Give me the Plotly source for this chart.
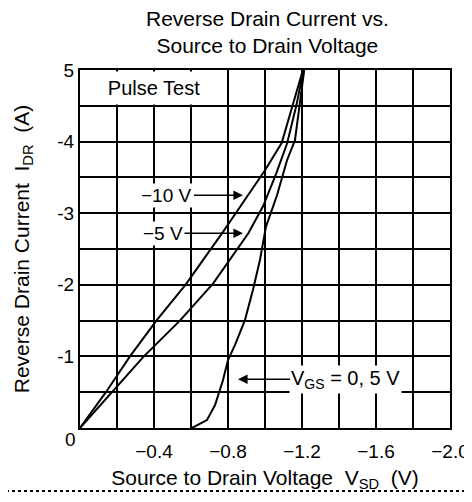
import plotly.graph_objects as go

FONT = "Liberation Sans, Arial, sans-serif"

# curve data (V_SD in V, I_DR in A)
vsd_10v = [0, -0.14, -0.27, -0.416, -0.57, -0.773, -0.908, -1.0, -1.09, -1.15, -1.205]
idr_10v = [0, -0.5, -1.0, -1.51, -2.0, -2.74, -3.25, -3.60, -3.98, -4.51, -5.0]

vsd_5v = [0, -0.17, -0.345, -0.54, -0.72, -0.91, -0.99, -1.06, -1.12, -1.17, -1.208]
idr_5v = [0, -0.5, -1.0, -1.5, -2.02, -2.72, -3.1, -3.55, -3.98, -4.51, -5.0]

vsd_0v = [-0.605, -0.686, -0.73, -0.773, -0.80, -0.838, -0.892, -0.935, -0.973,
          -1.005, -1.065, -1.119, -1.162, -1.189, -1.212]
idr_0v = [0, -0.11, -0.32, -0.67, -0.95, -1.16, -1.51, -1.93, -2.35,
          -2.81, -3.25, -3.74, -4.02, -4.51, -5.0]

x_ticks = [0, -0.2, -0.4, -0.6, -0.8, -1.0, -1.2, -1.4, -1.6, -1.8, -2.0]
x_labels = ["", "", "\u22120.4", "", "\u22120.8", "", "\u22121.2", "", "\u22121.6", "", "\u22122.0"]
y_ticks = [-5, -4.5, -4, -3.5, -3, -2.5, -2, -1.5, -1, -0.5, 0]
y_labels = ["5", "", "-4", "", "-3", "", "-2", "", "-1", "", ""]

fig = go.Figure()
for xs, ys in [(vsd_10v, idr_10v), (vsd_5v, idr_5v), (vsd_0v, idr_0v)]:
    fig.add_trace(go.Scatter(
        x=xs, y=ys, mode="lines",
        line=dict(color="black", width=2),
        showlegend=False, hoverinfo="skip",
    ))

ann_font = dict(family=FONT, size=19, color="black")
arrow = dict(showarrow=True, arrowhead=2, arrowsize=1.2, arrowwidth=1.6, arrowcolor="black",
             bgcolor="white", borderpad=1, font=ann_font, xref="x", yref="y")
fig.add_annotation(x=-0.881, y=-3.25, ax=-76, ay=0, text="\u221210 V", **arrow)
fig.add_annotation(x=-0.881, y=-2.72, ax=-80, ay=0, text="\u22125 V", **arrow)
fig.add_annotation(x=-0.854, y=-0.68, ax=108, ay=0, text="V<sub>GS</sub> = 0, 5 V",
                   **{**arrow, "font": dict(family=FONT, size=20, color="black")})

fig.add_annotation(x=-0.4, y=-4.75, xref="x", yref="y", text="Pulse Test", showarrow=False,
                   width=140, height=30, bgcolor="white",
                   font=dict(family=FONT, size=20, color="black"))

# title as a paper annotation so it sits at a fixed pixel height
fig.add_annotation(x=(267 - 80) / 370, y=(428 - 32) / 358, xref="paper", yref="paper",
                   yanchor="middle", showarrow=False,
                   text="Reverse Drain Current vs.<br>Source to Drain Voltage",
                   font=dict(family=FONT, size=21, color="black"))

# origin label sits left of the corner
fig.add_annotation(x=-17 / 370, y=-24 / 358, xref="paper", yref="paper", text="0",
                   showarrow=False, font=dict(family=FONT, size=19, color="black"))

# dotted rule along the bottom edge of the figure
fig.add_shape(type="line", xref="paper", yref="paper", x0=-80 / 370, x1=392 / 370,
              y0=-63 / 358, y1=-63 / 358, line=dict(color="black", width=2, dash="dot"))

axis_common = dict(showgrid=True, gridcolor="black", gridwidth=2, zeroline=False,
                   showline=True, linecolor="black", linewidth=2, mirror=True, ticks="",
                   automargin=False, tickfont=dict(family=FONT, size=19, color="black"))

# the page body adds an 8px margin, so the figure is drawn smaller to avoid scrollbars
fig.update_layout(
    width=464, height=484,
    margin=dict(l=72, r=22, t=62, b=64),
    paper_bgcolor="white", plot_bgcolor="white",
    xaxis=dict(range=[0, -2.0], tickvals=x_ticks, ticktext=x_labels, ticklabelstandoff=5,
               title=dict(text="Source to Drain Voltage  V<sub>SD</sub>  (V)", standoff=18,
                          font=dict(family=FONT, size=21, color="black")),
               **axis_common),
    yaxis=dict(range=[0, -5], tickvals=y_ticks, ticktext=y_labels,
               title=dict(text="Reverse Drain Current  I<sub>DR</sub>  (A)", standoff=22,
                          font=dict(family=FONT, size=21, color="black")),
               **axis_common),
)

fig.write_html("out.html")
